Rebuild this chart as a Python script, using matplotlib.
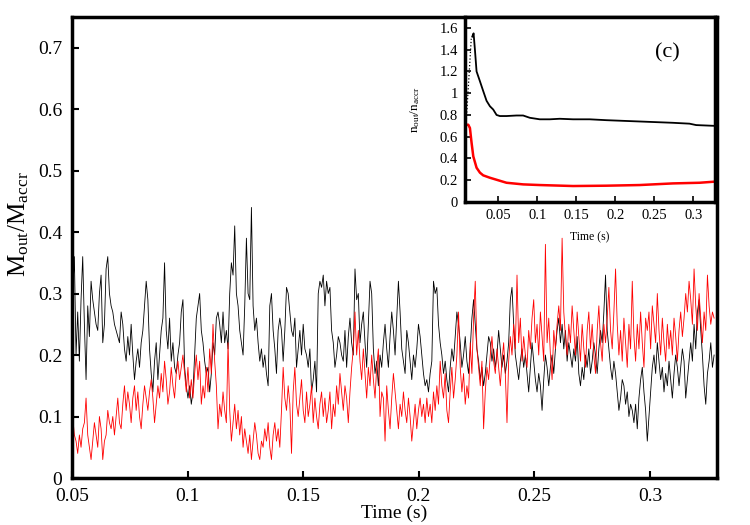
import numpy as np
import matplotlib
matplotlib.use("Agg")
import matplotlib.pyplot as plt

plt.rcParams['font.family'] = 'serif'
plt.rcParams['font.serif'] = ['Liberation Serif', 'DejaVu Serif']
plt.rcParams['mathtext.fontset'] = 'custom'
plt.rcParams['mathtext.rm'] = 'Liberation Serif'
plt.rcParams['mathtext.it'] = 'Liberation Serif:italic'

# main panel: outflow / accretion mass ratio (black and red runs)
t_start, t_end = 0.0503, 0.32775

black_out = [
    0.30, 0.36, 0.20, 0.27, 0.19, 0.29, 0.36, 0.25, 0.16, 0.28,
    0.23, 0.32, 0.29, 0.27, 0.25, 0.24, 0.30, 0.33, 0.22, 0.25,
    0.34, 0.36, 0.30, 0.28, 0.27, 0.25, 0.24, 0.23, 0.22, 0.27,
    0.25, 0.21, 0.19, 0.23, 0.20, 0.25, 0.20, 0.16, 0.19, 0.21,
    0.18, 0.22, 0.24, 0.28, 0.32, 0.29, 0.21, 0.17, 0.14, 0.19,
    0.22, 0.16, 0.20, 0.24, 0.26, 0.35, 0.24, 0.21, 0.26, 0.19,
    0.22, 0.18, 0.17, 0.20, 0.22, 0.27, 0.29, 0.18, 0.15, 0.13,
    0.15, 0.12, 0.14, 0.20, 0.26, 0.28, 0.30, 0.24, 0.22, 0.19,
    0.17, 0.18, 0.14, 0.17, 0.22, 0.20, 0.26, 0.27, 0.25, 0.22,
    0.27, 0.22, 0.24, 0.21, 0.30, 0.35, 0.33, 0.41, 0.30, 0.28,
    0.24, 0.22, 0.20, 0.28, 0.39, 0.30, 0.29, 0.44, 0.28, 0.24,
    0.26, 0.22, 0.19, 0.21, 0.18, 0.20, 0.17, 0.15, 0.28, 0.30,
    0.24, 0.21, 0.17, 0.24, 0.26, 0.24, 0.19, 0.24, 0.31, 0.30,
    0.27, 0.24, 0.23, 0.26, 0.18, 0.21, 0.24, 0.20, 0.25, 0.21,
    0.20, 0.18, 0.21, 0.14, 0.16, 0.19, 0.14, 0.30, 0.32, 0.31,
    0.33, 0.28, 0.32, 0.30, 0.31, 0.24, 0.22, 0.18, 0.20, 0.23,
    0.22, 0.20, 0.19, 0.24, 0.18, 0.23, 0.26, 0.22, 0.20, 0.34,
    0.29, 0.30, 0.22, 0.25, 0.27, 0.22, 0.18, 0.25, 0.32, 0.30,
    0.21, 0.17, 0.19, 0.15, 0.20, 0.18,
    0.22, 0.25, 0.21, 0.18, 0.23, 0.27, 0.24, 0.20, 0.26, 0.32,
    0.27, 0.21, 0.19, 0.17, 0.24, 0.22, 0.19, 0.16, 0.20, 0.18,
    0.21, 0.25, 0.23, 0.20, 0.17, 0.15, 0.16, 0.14, 0.17, 0.19,
    0.32, 0.30, 0.31, 0.25, 0.22, 0.20, 0.17, 0.19, 0.16, 0.14,
    0.18, 0.21, 0.19, 0.23, 0.27, 0.25, 0.22, 0.18, 0.20, 0.23,
    0.19, 0.17, 0.21, 0.26, 0.29, 0.25, 0.21, 0.19, 0.16, 0.18,
    0.15, 0.17, 0.20, 0.23, 0.22, 0.19, 0.21, 0.18, 0.20, 0.24,
    0.21, 0.18, 0.20, 0.17, 0.19, 0.22, 0.29, 0.31, 0.25, 0.20,
    0.18, 0.16, 0.19, 0.21, 0.18, 0.20, 0.17, 0.14, 0.18, 0.22,
    0.19, 0.16, 0.14, 0.17, 0.15, 0.11, 0.16, 0.20, 0.18, 0.15,
    0.18, 0.20, 0.17, 0.21, 0.24, 0.26, 0.22, 0.25, 0.21, 0.24,
    0.19, 0.22, 0.20, 0.18, 0.21, 0.19, 0.23, 0.17, 0.15, 0.18,
    0.16, 0.20, 0.18, 0.21, 0.17, 0.19, 0.22, 0.20, 0.17, 0.21,
    0.24, 0.22, 0.27, 0.33, 0.24, 0.21, 0.18, 0.16, 0.19, 0.17,
    0.14, 0.11, 0.13, 0.16, 0.15, 0.12, 0.14, 0.10, 0.12, 0.11,
    0.09, 0.12, 0.08, 0.13, 0.16, 0.18, 0.14, 0.11, 0.06, 0.10,
    0.14, 0.18, 0.20, 0.17, 0.22, 0.19, 0.16, 0.18, 0.14, 0.17,
    0.15, 0.19, 0.16, 0.13, 0.17, 0.20, 0.18, 0.15, 0.18, 0.21,
    0.19, 0.13, 0.16, 0.19, 0.22, 0.19, 0.25, 0.21, 0.27, 0.29,
    0.24, 0.20, 0.15, 0.12, 0.17, 0.19, 0.22, 0.18, 0.20,
]

red_out = [
    0.10, 0.07, 0.06, 0.04, 0.07, 0.05, 0.08, 0.09, 0.13, 0.07,
    0.05, 0.03, 0.06, 0.09, 0.07, 0.05, 0.10, 0.08, 0.03, 0.06,
    0.07, 0.11, 0.09, 0.08, 0.10, 0.07, 0.10, 0.13, 0.09, 0.08,
    0.12, 0.15, 0.11, 0.14, 0.12, 0.09, 0.13, 0.15, 0.11, 0.14,
    0.10, 0.08, 0.12, 0.15, 0.13, 0.11, 0.14, 0.16, 0.13, 0.09,
    0.12, 0.15, 0.13, 0.17, 0.14, 0.19, 0.16, 0.12, 0.14, 0.18,
    0.15, 0.13, 0.17, 0.19, 0.16, 0.18, 0.20, 0.17, 0.14, 0.18,
    0.13, 0.16, 0.13, 0.17, 0.20, 0.16, 0.19, 0.12, 0.15, 0.13,
    0.18, 0.14, 0.21, 0.17, 0.25, 0.19, 0.15, 0.08, 0.12, 0.10,
    0.14, 0.11, 0.09, 0.22, 0.11, 0.06, 0.09, 0.12, 0.08, 0.11,
    0.07, 0.10, 0.05, 0.08, 0.06, 0.04, 0.07, 0.03, 0.06, 0.09,
    0.07, 0.04, 0.03, 0.06, 0.05, 0.08, 0.06, 0.09, 0.05, 0.03,
    0.07, 0.09, 0.06, 0.08, 0.05, 0.11, 0.18, 0.13, 0.11, 0.15,
    0.12, 0.04, 0.14, 0.18, 0.12, 0.10, 0.13, 0.16, 0.11, 0.09,
    0.14, 0.10, 0.12, 0.15, 0.09, 0.13, 0.10, 0.08, 0.12, 0.14,
    0.10, 0.13, 0.09, 0.11, 0.14, 0.08, 0.12, 0.10, 0.15, 0.12,
    0.17, 0.14, 0.11, 0.15, 0.13, 0.09, 0.14, 0.18, 0.21, 0.27,
    0.20, 0.24, 0.19, 0.16, 0.21, 0.17, 0.13, 0.18, 0.15, 0.20,
    0.16, 0.13, 0.18, 0.21, 0.10, 0.14,
    0.13, 0.06, 0.15, 0.11, 0.08, 0.13, 0.17, 0.14, 0.11, 0.08,
    0.12, 0.10, 0.14, 0.11, 0.09, 0.13, 0.10, 0.06, 0.09, 0.12,
    0.08, 0.11, 0.13, 0.10, 0.12, 0.09, 0.13, 0.10, 0.12, 0.09,
    0.14, 0.11, 0.15, 0.12, 0.19, 0.15, 0.13, 0.17, 0.11, 0.09,
    0.14, 0.18, 0.13, 0.16, 0.20, 0.27, 0.18, 0.14, 0.17, 0.12,
    0.15, 0.13, 0.22, 0.17, 0.26, 0.32, 0.21, 0.18, 0.15, 0.19,
    0.08, 0.14, 0.18, 0.16, 0.20, 0.23, 0.19, 0.17, 0.21, 0.18,
    0.15, 0.19, 0.22, 0.17, 0.09, 0.19, 0.23, 0.20, 0.25, 0.21,
    0.33, 0.22, 0.26, 0.19, 0.23, 0.20, 0.18, 0.24, 0.21, 0.26,
    0.29, 0.22, 0.25, 0.20, 0.27, 0.23, 0.19, 0.38, 0.22, 0.26,
    0.20, 0.16, 0.24, 0.21, 0.25, 0.28, 0.24, 0.39, 0.27, 0.23,
    0.20, 0.25, 0.22, 0.28, 0.24, 0.20, 0.27, 0.23, 0.19, 0.25,
    0.21, 0.18, 0.24, 0.27, 0.21, 0.25, 0.20, 0.17, 0.24, 0.28,
    0.22, 0.19, 0.25, 0.22, 0.26, 0.31, 0.24, 0.21, 0.27, 0.34,
    0.25, 0.20, 0.24, 0.19, 0.26, 0.22, 0.18, 0.25, 0.21, 0.32,
    0.23, 0.19, 0.25, 0.21, 0.27, 0.22, 0.18, 0.26, 0.24, 0.27,
    0.21, 0.28, 0.25, 0.22, 0.30, 0.24, 0.20, 0.26, 0.22, 0.19,
    0.25, 0.21, 0.24, 0.20, 0.26, 0.23, 0.19, 0.24, 0.27, 0.23,
    0.26, 0.30, 0.27, 0.32, 0.29, 0.25, 0.34, 0.28, 0.24, 0.30,
    0.26, 0.22, 0.27, 0.24, 0.33, 0.28, 0.25, 0.27, 0.26,
]

time = np.linspace(t_start, t_end, len(black_out))

# inset: number ratio n_out/n_accr
inset_black_t = [0.0168, 0.0185, 0.0202, 0.0223, 0.0266, 0.0308, 0.0351, 0.0394,
                 0.0436, 0.0479, 0.0521, 0.0606, 0.0734, 0.0819, 0.0905, 0.1032,
                 0.116, 0.1288, 0.1458, 0.1671, 0.1884, 0.2097, 0.231, 0.2523,
                 0.2736, 0.2949, 0.3034, 0.3268]
inset_black = [1.52, 1.55, 1.40, 1.20, 1.11, 1.02, 0.93, 0.88,
               0.85, 0.80, 0.79, 0.79, 0.795, 0.795, 0.774, 0.76,
               0.76, 0.765, 0.76, 0.76, 0.752, 0.746, 0.74, 0.734,
               0.728, 0.72, 0.707, 0.70]
dotted_t = [0.0085, 0.0155]
dotted_v = [0.67, 1.50]

inset_red_t = [0.0087, 0.0117, 0.0138, 0.0159, 0.0181, 0.0223, 0.0266, 0.0308,
               0.0394, 0.05, 0.0606, 0.0819, 0.1032, 0.1458, 0.1884, 0.231,
               0.2736, 0.3077, 0.3268]
inset_red = [0.71, 0.71, 0.68, 0.545, 0.42, 0.315, 0.27, 0.245,
             0.223, 0.20, 0.177, 0.162, 0.156, 0.147, 0.15, 0.156,
             0.171, 0.177, 0.187]

fig = plt.figure(figsize=(7.5, 5.25), dpi=100)
ax = fig.add_axes([0.096, 0.0895, 0.86, 0.8785])
ax.plot(time, black_out, color='black', lw=0.6)
ax.plot(time, red_out, color='#ff0000', lw=0.6)
ax.set_xlim(0.05, 0.329)
ax.set_ylim(0, 0.75)
ax.set_xticks([0.05, 0.1, 0.15, 0.2, 0.25, 0.3])
ax.set_xticklabels(['0.05', '0.1', '0.15', '0.2', '0.25', '0.3'])
ax.set_yticks([0, 0.1, 0.2, 0.3, 0.4, 0.5, 0.6, 0.7])
ax.set_yticklabels(['0', '0.1', '0.2', '0.3', '0.4', '0.5', '0.6', '0.7'])
ax.tick_params(direction='in', length=5, width=1.5, labelsize=14)
ax.tick_params(axis='x', pad=7)
ax.tick_params(axis='y', pad=7)
for s in ax.spines.values():
    s.set_linewidth(2.5)
ax.set_xlabel('Time (s)', fontsize=14, labelpad=0)
ax.set_ylabel(r'$\mathrm{M_{out}/M_{accr}}$', fontsize=18)
ax.yaxis.set_label_coords(-0.064, 0.55)

ins = fig.add_axes([0.62, 0.6152, 0.3333, 0.3524])
ins.plot(dotted_t, dotted_v, color='black', lw=0.9, ls=':')
ins.plot(inset_black_t, inset_black, color='black', lw=1.3)
ins.plot(inset_red_t, inset_red, color='#ff0000', lw=1.8)
ins.set_xlim(0.0075, 0.3275)
ins.set_ylim(0, 1.7)
ins.set_xticks([0.05, 0.1, 0.15, 0.2, 0.25, 0.3])
ins.set_xticklabels(['0.05', '0.1', '0.15', '0.2', '0.25', '0.3'])
ins.set_yticks([0, 0.2, 0.4, 0.6, 0.8, 1.0, 1.2, 1.4, 1.6])
ins.set_yticklabels(['0', '0.2', '0.4', '0.6', '0.8', '1', '1.2', '1.4', '1.6'])
ins.tick_params(direction='in', length=4, width=1.2, labelsize=10.5, pad=5)
for s in ins.spines.values():
    s.set_linewidth(2.5)
ins.set_xlabel('Time (s)', fontsize=8.5, labelpad=7)
ins.set_ylabel(r'$\mathrm{n_{out}/n_{accr}}$', fontsize=9.5, labelpad=13)
ins.text(0.267, 1.37, '(c)', fontsize=16, ha='center', va='center')

fig.savefig('out.png', dpi=100)
